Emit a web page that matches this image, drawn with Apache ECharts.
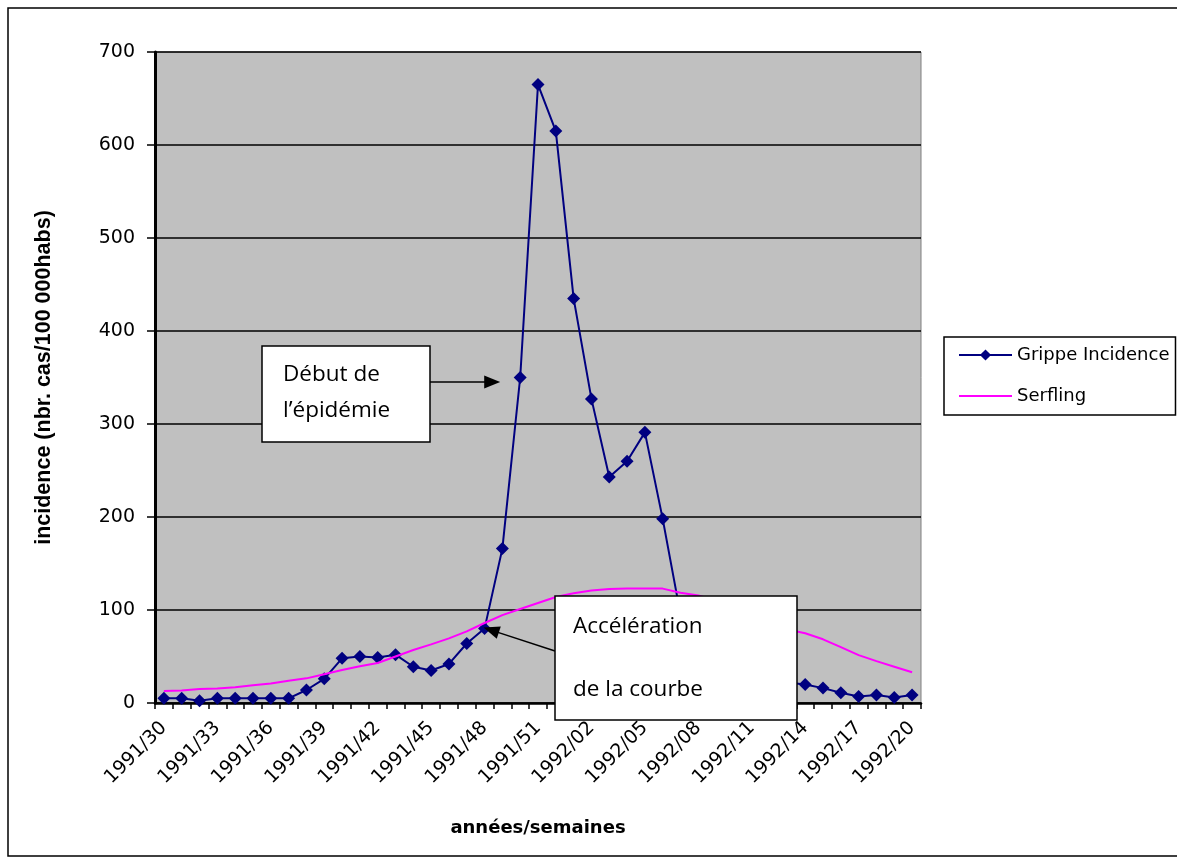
<!DOCTYPE html>
<html><head><meta charset="utf-8">
<script src="https://cdn.jsdelivr.net/npm/echarts@6/dist/echarts.min.js"></script>
<style>html,body{margin:0;padding:0;background:#fff}#c{width:1177px;height:864px}</style>
</head><body><div id="c"></div>
<script>
const categories = [
  '1991/30','1991/31','1991/32','1991/33','1991/34','1991/35','1991/36','1991/37','1991/38','1991/39',
  '1991/40','1991/41','1991/42','1991/43','1991/44','1991/45','1991/46','1991/47','1991/48','1991/49',
  '1991/50','1991/51','1991/52','1992/01','1992/02','1992/03','1992/04','1992/05','1992/06','1992/07',
  '1992/08','1992/09','1992/10','1992/11','1992/12','1992/13','1992/14','1992/15','1992/16','1992/17',
  '1992/18','1992/19','1992/20'
];
const grippe = [5,5,2.5,5,5,5,5,5,14,26,48,50,49,52,39,35,42,64,80,166,350,665,615,435,327,243,260,291,198,95,70,50,38,30,25,22,20,16,11,7,8.5,6,8.5];
const serfling = [13,13.5,15,15.5,17,19,21,24,26.5,31,35.5,39.5,43,50,57,63,69.5,77,86,94.5,101,107.5,114,118,121,122.5,123,123,123,118.5,115.5,110,103,95,87,79,75,68.5,60,51.5,45,39,33];
const yMin = 0, yMax = 700, yStep = 100;
const annotations = [
  {lines:['Début de','l’épidémie'], target:20},
  {lines:['Accélération','de la courbe'], target:18}
];

const chart = echarts.init(document.getElementById('c'), null, {renderer:'canvas'});
const tickFont = {fontFamily:'DejaVu Sans', fontSize:19, color:'#000'};
chart.setOption({
  animation:false,
  backgroundColor:'#fff',
  grid:{left:155,right:256,top:52,bottom:161,show:true,backgroundColor:'#c0c0c0',borderColor:'#808080',borderWidth:1},
  legend:{
    orient:'vertical', left:944, top:337,
    padding:[8,6,9,14], itemGap:21, itemWidth:53, itemHeight:14,
    borderColor:'#000', borderWidth:1.5, backgroundColor:'#fff',
    textStyle:{fontFamily:'DejaVu Sans', fontSize:18, color:'#000', lineHeight:20},
    data:[{name:'Grippe Incidence'},{name:'Serfling', itemStyle:{opacity:0}}]
  },
  xAxis:{
    type:'category', data:categories, boundaryGap:true,
    axisLine:{lineStyle:{color:'#000',width:2.5}},
    axisTick:{show:true, interval:0, length:6, lineStyle:{color:'#000',width:1.5}},
    axisLabel:Object.assign({interval:2, rotate:45, margin:22}, tickFont),
    splitLine:{show:false},
    name:'années/semaines', nameLocation:'middle', nameGap:116,
    nameTextStyle:{fontFamily:'DejaVu Sans', fontWeight:'bold', fontSize:18, color:'#000'}
  },
  yAxis:{
    type:'value', min:yMin, max:yMax, interval:yStep,
    axisLine:{show:true, lineStyle:{color:'#000',width:3}},
    axisTick:{show:true, length:8, lineStyle:{color:'#000',width:1.5}},
    axisLabel:Object.assign({margin:20}, tickFont),
    splitLine:{show:true, lineStyle:{color:'#000',width:1.5}},
    name:'incidence (nbr. cas/100 000habs)', nameLocation:'middle', nameRotate:90, nameGap:100,
    nameTextStyle:{fontFamily:'Liberation Sans', fontWeight:'bold', fontSize:21.5, color:'#000'}
  },
  series:[
    {name:'Grippe Incidence', type:'line', data:grippe, symbol:'diamond', symbolSize:[13,13], showAllSymbol:true,
     lineStyle:{color:'#000080',width:2}, itemStyle:{color:'#000080'}, z:3},
    {name:'Serfling', type:'line', data:serfling, symbol:'none',
     lineStyle:{color:'#ff00ff',width:2}, itemStyle:{color:'#ff00ff'}, z:4}
  ]
});

function arrowHead(tx,ty,fx,fy){
  const dx=tx-fx, dy=ty-fy, len=Math.hypot(dx,dy), ux=dx/len, uy=dy/len;
  const L=16, W=13, nx=-uy, ny=ux;
  const bx=tx-ux*L, by=ty-uy*L;
  return [[tx,ty],[bx+nx*W/2,by+ny*W/2],[bx-nx*W/2,by-ny*W/2]];
}
const p1 = chart.convertToPixel({seriesIndex:0},[annotations[0].target, grippe[annotations[0].target]]);
const p2 = chart.convertToPixel({seriesIndex:0},[annotations[1].target, grippe[annotations[1].target]]);
const a1from=[430,382], a1to=[p1[0]-20,382];
const a2from=[555,651], a2to=[p2[0]-1,p2[1]-1];
const textStyle={fontFamily:'Open Sans', fontSize:22.5, fill:'#000', verticalAlign:'middle', align:'left'};
const g=[
  {type:'rect', shape:{x:8,y:8,width:1200,height:848}, style:{fill:'none',stroke:'#000',lineWidth:1.5}, z:0, silent:true},
  {type:'rect', shape:{x:262,y:346,width:168,height:96}, style:{fill:'#fff',stroke:'#000',lineWidth:1.5}, z:100},
  {type:'text', x:283, y:375, style:Object.assign({text:annotations[0].lines[0]},textStyle), z:101},
  {type:'text', x:283, y:411, style:Object.assign({text:annotations[0].lines[1]},textStyle), z:101},
  {type:'line', shape:{x1:a1from[0],y1:a1from[1],x2:a1to[0]-10,y2:a1to[1]}, style:{stroke:'#000',lineWidth:1.5}, z:100},
  {type:'polygon', shape:{points:arrowHead(a1to[0],a1to[1],a1from[0],a1from[1])}, style:{fill:'#000'}, z:100},
  {type:'line', shape:{x1:a2from[0],y1:a2from[1],x2:a2to[0]+9,y2:a2to[1]+3}, style:{stroke:'#000',lineWidth:1.5}, z:100},
  {type:'polygon', shape:{points:arrowHead(a2to[0],a2to[1],a2from[0],a2from[1])}, style:{fill:'#000'}, z:100},
  {type:'rect', shape:{x:555,y:596,width:242,height:124}, style:{fill:'#fff',stroke:'#000',lineWidth:1.5}, z:100},
  {type:'text', x:573, y:627, style:Object.assign({text:annotations[1].lines[0]},textStyle), z:101},
  {type:'text', x:573, y:690, style:Object.assign({text:annotations[1].lines[1]},textStyle), z:101}
];
chart.setOption({graphic:{elements:g}});
</script></body></html>
